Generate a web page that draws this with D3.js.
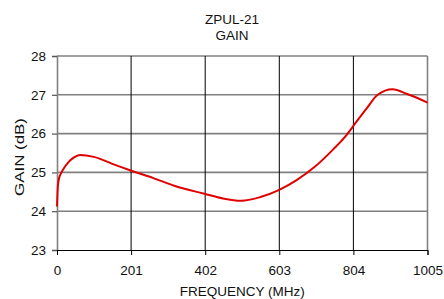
<!DOCTYPE html>
<html>
<head>
<meta charset="utf-8">
<script src="https://cdn.jsdelivr.net/npm/d3@7"></script>
<style>
  body { margin: 0; background: #fff; }
  text { font-family: "Liberation Sans", Arial, sans-serif; fill: #111; }
</style>
</head>
<body>
<svg width="444" height="299"></svg>
<script>
// gain curve
const freq = [0, 2, 5, 10, 15, 30, 45, 62, 100, 150, 200, 260, 320, 400, 450, 500, 550, 603, 650, 700, 750, 780, 804, 840, 870, 910, 950, 1005]
const gain = [24.12, 24.6, 24.82, 24.96, 25.05, 25.25, 25.38, 25.45, 25.4, 25.22, 25.05, 24.86, 24.65, 24.45, 24.33, 24.27, 24.36, 24.55, 24.8, 25.15, 25.6, 25.9, 26.2, 26.65, 27.0, 27.14, 27.02, 26.8]
const xTicks = [0, 201, 402, 603, 804, 1005]
const yTicks = [23, 24, 25, 26, 27, 28]
const titleLines = ["ZPUL-21", "GAIN"]

const margin = {top: 56, right: 16.5, bottom: 49, left: 57}
const width = 444 - margin.left - margin.right
const height = 299 - margin.top - margin.bottom

const svg = d3.select("svg")
const g = svg.append("g")
    .attr("transform", "translate(" + margin.left + "," + margin.top + ")")

const x = d3.scaleLinear().domain([0, 1005]).range([0, width])
const y = d3.scaleLinear().domain([23, 28]).range([height, 0])

// horizontal grid (gray)
g.append("g")
    .selectAll("line")
    .data(yTicks.slice(1))
    .enter().append("line")
    .attr("x1", 0).attr("x2", width)
    .attr("y1", d => y(d)).attr("y2", d => y(d))
    .attr("stroke", "#808080").attr("stroke-width", 1.6)

// vertical grid (dark)
g.append("g")
    .selectAll("line")
    .data(xTicks.slice(1, -1))
    .enter().append("line")
    .attr("x1", d => x(d)).attr("x2", d => x(d))
    .attr("y1", 0).attr("y2", height)
    .attr("stroke", "#000").attr("stroke-width", 1)

// right border
g.append("line")
    .attr("x1", x(1005)).attr("x2", x(1005))
    .attr("y1", 0).attr("y2", height)
    .attr("stroke", "#808080").attr("stroke-width", 1.6)

// y axis
const gy = g.append("g")
    .call(d3.axisLeft(y).tickValues(yTicks).tickSize(5).tickPadding(6).tickFormat(d3.format("d")))
gy.select(".domain").attr("stroke", "#808080").attr("stroke-width", 1.6)
gy.selectAll(".tick line").attr("stroke", "#555").attr("stroke-width", 1.2)
gy.selectAll("text").style("font-size", "13.5px").attr("fill", "#111")

// x axis
const gx = g.append("g")
    .attr("transform", "translate(0," + height + ")")
    .call(d3.axisBottom(x).tickValues(xTicks).tickSize(5).tickPadding(10).tickFormat(d3.format("d")))
gx.select(".domain").attr("stroke", "#000").attr("stroke-width", 1)
gx.selectAll(".tick line").attr("stroke", "#000")
gx.selectAll("text").style("font-size", "13.5px").attr("fill", "#111")

// gain line
const line = d3.line()
    .x((d, i) => x(freq[i]))
    .y(d => y(d))
    .curve(d3.curveMonotoneX)
g.append("path")
    .attr("d", line(gain))
    .attr("fill", "none")
    .attr("stroke", "#e00000")
    .attr("stroke-width", 2)

// titles
svg.selectAll(".title")
    .data(titleLines)
    .enter().append("text")
    .attr("class", "title")
    .attr("x", 232)
    .attr("y", (d, i) => 24 + i * 16)
    .attr("text-anchor", "middle")
    .style("font-size", "13.5px")
    .text(d => d)

svg.append("text")
    .attr("x", margin.left + width / 2)
    .attr("y", 296)
    .attr("text-anchor", "middle")
    .style("font-size", "13.5px")
    .text("FREQUENCY (MHz)")

svg.append("text")
    .attr("transform", "translate(24,157) rotate(-90)")
    .attr("text-anchor", "middle")
    .attr("textLength", 78)
    .attr("lengthAdjust", "spacingAndGlyphs")
    .style("font-size", "13.5px")
    .text("GAIN (dB)")
</script>
</body>
</html>
